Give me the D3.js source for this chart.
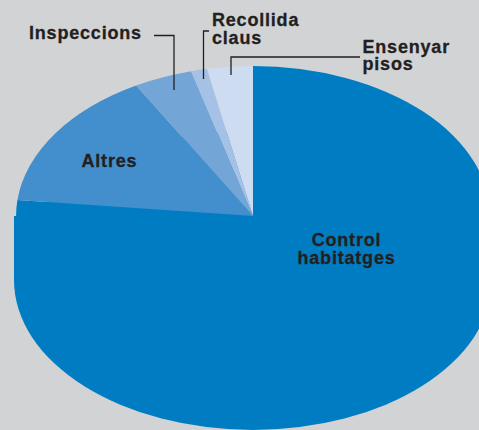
<!DOCTYPE html>
<html>
<head>
<meta charset="utf-8">
<script src="https://cdn.jsdelivr.net/npm/d3@7"></script>
<style>
  html, body { margin: 0; padding: 0; background: #d2d3d5; }
  svg { display: block; }
  .lbl { font-family: "Liberation Sans", Arial, Helvetica, sans-serif; font-weight: bold; font-size: 18px; letter-spacing: 0.8px; fill: #231f20; stroke: #231f20; stroke-width: 0.3; }
  .leader { fill: none; stroke: #231f20; stroke-width: 1.3; }
</style>
</head>
<body>
<svg id="chart" width="479" height="430"></svg>
<script>
// share of the time per task
const categories = ['Control habitatges', 'Altres', 'Inspeccions', 'Recollida claus', 'Ensenyar pisos'];
const values = [76.7, 15.1, 4.0, 1.1, 3.1];
const colors = ['#007cc3', '#438ecc', '#74a5d7', '#a5c2e6', '#cddcf0'];

const width = 479, height = 430;
const cx = 253, cy = 216, rx = 237, ry = 150, depth = 64;

const svg = d3.select('#chart');

// side wall of the disc (only the big slice shows at the front)
const side = svg.append('g').attr('fill', colors[0]);
side.append('rect')
  .attr('x', cx - rx - 2).attr('y', cy)
  .attr('width', 2 * (rx + 2)).attr('height', depth);
side.append('ellipse')
  .attr('cx', cx).attr('cy', cy + depth)
  .attr('rx', rx + 2).attr('ry', ry);

// top face: unit pie squashed into an ellipse
const pie = d3.pie().sort(null).value(d => d.value);
const arc = d3.arc().innerRadius(0).outerRadius(1);
const data = categories.map((c, i) => ({ name: c, value: values[i], color: colors[i] }));

svg.append('g')
    .attr('transform', `translate(${cx},${cy}) scale(${rx},${ry})`)
  .selectAll('path')
  .data(pie(data))
  .enter().append('path')
    .attr('d', arc)
    .attr('fill', d => d.data.color);

// leader lines
const leaders = [
  [[154, 35.5], [174, 35.5], [174, 90]],
  [[209, 31], [203.5, 31], [203.5, 79]],
  [[360, 57], [231, 57], [231, 75]]
];
svg.selectAll('.leader')
  .data(leaders)
  .enter().append('path')
    .attr('class', 'leader')
    .attr('d', d3.line());

// labels
const labels = [
  { lines: ['Inspeccions'], x: 29, y: 39, anchor: 'start' },
  { lines: ['Recollida', 'claus'], x: 212, y: 26, anchor: 'start' },
  { lines: ['Ensenyar', 'pisos'], x: 362.5, y: 52.5, anchor: 'start' },
  { lines: ['Altres'], x: 81.5, y: 166.5, anchor: 'start' },
  { lines: ['Control', 'habitatges'], x: 346.5, y: 246, anchor: 'middle' }
];
const t = svg.selectAll('text.lbl')
  .data(labels)
  .enter().append('text')
    .attr('class', 'lbl')
    .attr('text-anchor', d => d.anchor);
t.selectAll('tspan')
  .data(d => d.lines.map((l, i) => ({ text: l, x: d.x, y: d.y + i * 17.8 })))
  .enter().append('tspan')
    .attr('x', d => d.x)
    .attr('y', d => d.y)
    .text(d => d.text);
</script>
</body>
</html>
